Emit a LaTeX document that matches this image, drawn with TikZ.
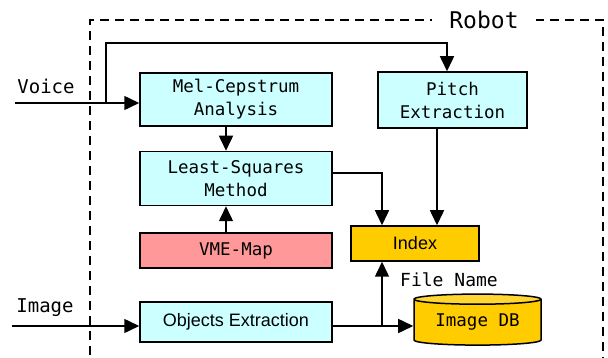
\documentclass[tikz,border=0pt]{standalone}
\usepackage{fontspec}
\setmainfont{Liberation Sans}
\newfontfamily\monofont{DejaVu Sans Mono}
\usetikzlibrary{arrows.meta,positioning,shapes.geometric}
\definecolor{Cyan}{HTML}{CCFFFF}
\definecolor{Salmon}{HTML}{FF9999}
\definecolor{Gold}{HTML}{FFCC00}
\definecolor{GoldTop}{HTML}{FFD633}

\begin{document}
\begin{tikzpicture}[x=1pt,y=-1pt,
      box/.style={draw,line width=1.5pt,align=center,inner sep=0pt,
        minimum width=192pt,font=\monofont\fontsize{17.5}{23}\selectfont},
      tag/.style={inner sep=0pt,font=\monofont\fontsize{18}{22}\selectfont},
      arrow/.style={-{Triangle[length=15pt,width=14pt]},line width=1.5pt},
      link/.style={line width=1.5pt}
    ]
      \clip (0,0) rectangle (608,358);
      % robot frame
      \draw[line width=2.5pt,dash pattern=on 9pt off 6pt] (90,370) -- (90,20) -- (603,20) -- (603,370);
      \node[fill=white,inner xsep=17pt,inner ysep=4pt,font=\monofont\fontsize{23}{23}\selectfont] (robot) at (484,20) {Robot};

      % processing blocks
      \node[box,fill=Cyan,minimum height=53pt] (mel) at (236,99.5) {Mel-Cepstrum\\Analysis};
      \node[box,fill=Cyan,minimum height=54pt,below=24pt of mel] (lsq) {Least-Squares\\Method};
      \node[box,fill=Salmon,minimum height=35pt,below=26pt of lsq] (vme) {VME-Map};
      \node[box,fill=Cyan,minimum height=40pt,font=\fontsize{18}{22}\selectfont] (obj) at (236,322) {Objects Extraction};
      \node[box,fill=Cyan,minimum width=149pt,minimum height=56pt] (pitch) at (452.5,100) {Pitch\\Extraction};
      \node[box,fill=Gold,minimum width=128pt,minimum height=35pt,font=\fontsize{18}{22}\selectfont] (index) at (415,243.5) {Index};
      \node[cylinder,shape border rotate=90,aspect=0.12,draw,line width=1.5pt,
        cylinder uses custom fill,cylinder body fill=Gold,cylinder end fill=GoldTop,
        minimum width=127pt,minimum height=51pt,inner sep=0pt,
        font=\monofont\fontsize{17.5}{22}\selectfont] (db) at (477.5,322.5) {Image DB};

      % inputs and labels
      \node[tag,font=\monofont\fontsize{19}{22}\selectfont] (voice) at (46,86) {Voice};
      \node[tag,font=\monofont\fontsize{19}{22}\selectfont] (image) at (45,308) {Image};
      \node[tag] (fname) at (449,280) {File Name};
      \coordinate (vin) at (15,103);
      \coordinate (iin) at (12,326);
      \coordinate (tap) at (106,103);
      \coordinate (turn) at (447,43);
      \coordinate (ldrop) at (382,173);
      \coordinate (pdrop) at (437,0);
      \coordinate (fork) at (382,326);

      % connectors
      \draw[arrow] (vin) -- (vin -| mel.west);
      \draw[arrow] (tap) |- (turn) -- (turn |- pitch.north);
      \draw[arrow] ([xshift=-10pt]mel.south) -- ([xshift=-10pt]lsq.north);
      \draw[arrow] ([xshift=-10pt]vme.north) -- ([xshift=-10pt]lsq.south);
      \draw[arrow] (ldrop -| lsq.east) -- (ldrop) -- (ldrop |- index.north);
      \draw[arrow] (pdrop |- pitch.south) -- (pdrop |- index.north);
      \draw[arrow] (iin) -- (iin -| obj.west);
      \draw[link] (fork -| obj.east) -- (fork);
      \draw[arrow] (fork) -- (fork -| db.west);
      \draw[arrow] (fork) -- (fork |- index.south);
    \end{tikzpicture}
\end{document}
